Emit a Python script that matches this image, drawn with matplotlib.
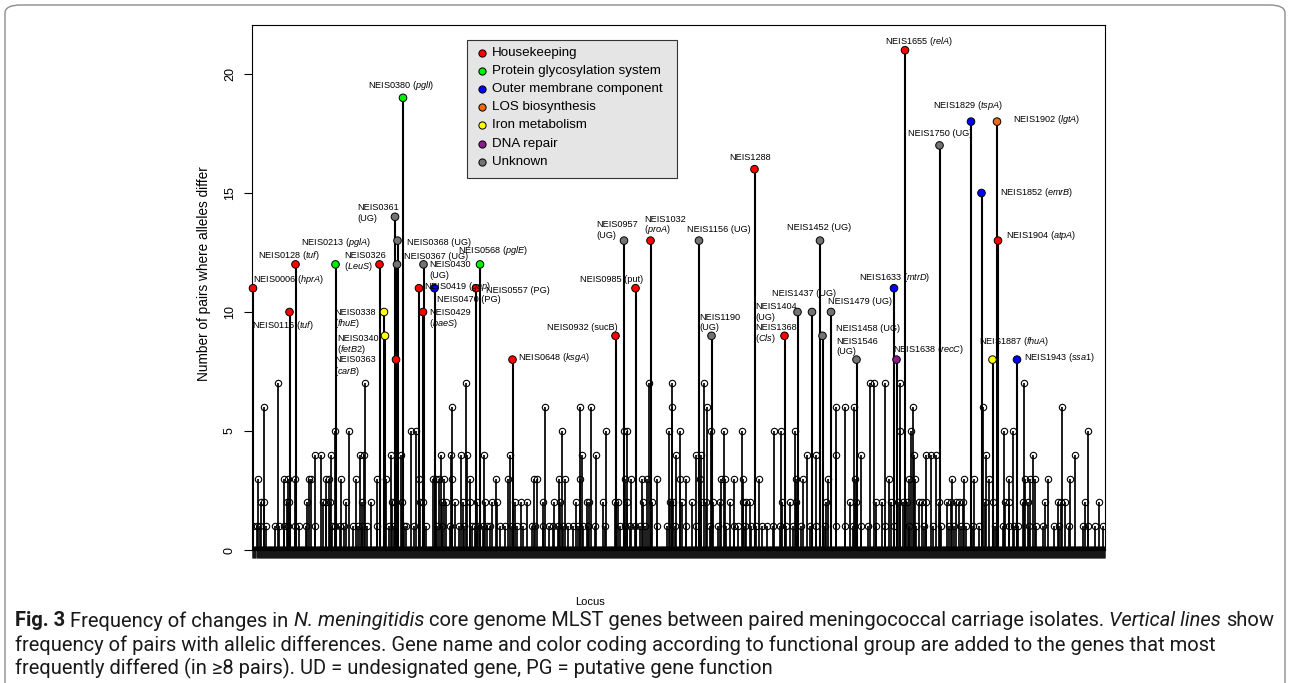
import matplotlib

matplotlib.use("Agg")
import matplotlib.pyplot as plt
import numpy as np
from matplotlib.lines import Line2D
from matplotlib.patches import FancyBboxPatch, Rectangle

W, H = 1290, 683
FONT = ["Liberation Sans", "DejaVu Sans"]
CAPTION_FONT = ["Roboto", "Liberation Sans", "DejaVu Sans"]

plt.rcParams["font.family"] = FONT
plt.rcParams["mathtext.fontset"] = "custom"
plt.rcParams["mathtext.rm"] = "Liberation Sans"
plt.rcParams["mathtext.it"] = "Liberation Sans:italic"

# loci on the x axis (index along the core genome, no tick labels)
N_LOCI = 1705

# functional groups
GROUPS = [
    "Housekeeping",
    "Protein glycosylation system",
    "Outer membrane component",
    "LOS biosynthesis",
    "Iron metabolism",
    "DNA repair",
    "Unknown",
]
GROUP_COLORS = ["#ff0000", "#00ee00", "#0000ff", "#ee6a10", "#ffff00", "#8b1a8b", "#737373"]

# genes differing in >= 8 pairs
GENE_IDS = [
    "NEIS0006", "NEIS0116", "NEIS0128", "NEIS0213", "NEIS0326", "NEIS0338",
    "NEIS0340", "NEIS0361", "NEIS0363", "NEIS0367", "NEIS0368", "NEIS0380",
    "NEIS0419", "NEIS0429", "NEIS0430", "NEIS0470", "NEIS0557", "NEIS0568",
    "NEIS0648", "NEIS0932", "NEIS0957", "NEIS0985", "NEIS1032", "NEIS1156",
    "NEIS1190", "NEIS1288", "NEIS1368", "NEIS1404", "NEIS1437", "NEIS1452",
    "NEIS1458", "NEIS1479", "NEIS1546", "NEIS1633", "NEIS1638", "NEIS1655",
    "NEIS1750", "NEIS1829", "NEIS1852", "NEIS1887", "NEIS1902", "NEIS1904",
    "NEIS1943",
]
GENE_LOCUS = [
    2, 75, 87, 167, 255, 264, 266, 286, 288, 290, 291, 302,
    334, 342, 343, 365, 448, 456, 521, 727, 744, 767, 797, 894,
    919, 1005, 1065, 1091, 1120, 1136, 1141, 1158, 1209, 1284, 1289, 1306,
    1375, 1438, 1459, 1481, 1490, 1492, 1530,
]
GENE_PAIRS = [
    11, 10, 12, 12, 12, 10, 9, 14, 8, 12, 13, 19,
    11, 10, 12, 11, 11, 12, 8, 9, 13, 11, 13, 13,
    9, 16, 9, 10, 10, 13, 9, 10, 8, 11, 8, 21,
    17, 18, 15, 8, 18, 13, 8,
]
GENE_GROUP = [
    0, 0, 0, 1, 0, 4, 4, 6, 0, 6, 6, 1,
    0, 0, 6, 2, 0, 1, 0, 0, 6, 0, 0, 6,
    6, 0, 0, 6, 6, 6, 6, 6, 6, 2, 5, 0,
    6, 2, 2, 4, 3, 0, 2,
]
GENE_LABELS = [
    r"NEIS0006 ($\it{hprA}$)", r"NEIS0116 ($\it{tuf}$)", r"NEIS0128 ($\it{tuf}$)",
    r"NEIS0213 ($\it{pglA}$)", "NEIS0326\n($\\it{LeuS}$)", "NEIS0338\n($\\it{fhuE}$)",
    "NEIS0340\n($\\it{fetB2}$)", "NEIS0361\n(UG)", "NEIS0363\n($\\it{carB}$)",
    "NEIS0367 (UG)", "NEIS0368 (UG)", r"NEIS0380 ($\it{pglI}$)",
    r"NEIS0419 ($\it{gap}$)", "NEIS0429\n($\\it{baeS}$)", "NEIS0430\n(UG)",
    "NEIS0470 (PG)", "NEIS0557 (PG)", r"NEIS0568 ($\it{pglE}$)",
    r"NEIS0648 ($\it{ksgA}$)", "NEIS0932 (sucB)", "NEIS0957\n(UG)",
    "NEIS0985 (put)", "NEIS1032\n($\\it{proA}$)", "NEIS1156 (UG)",
    "NEIS1190\n(UG)", "NEIS1288", "NEIS1368\n($\\it{Cls}$)",
    "NEIS1404\n(UG)", "NEIS1437 (UG)", "NEIS1452 (UG)",
    "NEIS1458 (UG)", "NEIS1479 (UG)", "NEIS1546\n(UG)",
    r"NEIS1633 ($\it{mtrD}$)", r"NEIS1638 ($\it{recC}$)", r"NEIS1655 ($\it{relA}$)",
    "NEIS1750 (UG)", r"NEIS1829 ($\it{tspA}$)", r"NEIS1852 ($\it{emrB}$)",
    r"NEIS1887 ($\it{fhuA}$)", r"NEIS1902 ($\it{lgtA}$)", r"NEIS1904 ($\it{atpA}$)",
    r"NEIS1943 ($\it{ssa1}$)",
]

# remaining loci, grouped by number of differing pairs
PAIRS_7 = [51, 226, 427, 794, 839, 903, 1235, 1243, 1265, 1295, 1543]
PAIRS_6 = [23, 399, 586, 655, 677, 840, 909, 1168, 1185, 1203, 1322, 1461, 1619]
PAIRS_5 = [165, 193, 317, 327, 620, 707, 743, 749, 833, 855, 917, 943, 979,
           1043, 1058, 1085, 1295, 1317, 1503, 1522, 1671]
PAIRS_4 = [125, 138, 158, 216, 223, 277, 298, 377, 397, 417, 429, 464, 515,
           660, 688, 847, 888, 898, 1110, 1128, 1167, 1218, 1323, 1347, 1357,
           1367, 1467, 1562, 1645]
PAIRS_3 = [11, 63, 71, 86, 113, 118, 147, 153, 178, 207, 249, 267, 333, 362,
           367, 373, 383, 399, 435, 487, 511, 563, 570, 614, 625, 655, 745, 757,
           779, 789, 809, 855, 868, 895, 938, 945, 963, 981, 1013, 1087, 1101,
           1151, 1205, 1273, 1314, 1325, 1399, 1424, 1444, 1473, 1513, 1545,
           1555, 1565, 1591, 1635]
PAIRS_2 = [18, 23, 69, 73, 109, 141, 148, 156, 187, 220, 237, 279, 285, 299,
           336, 341, 379, 388, 405, 421, 435, 449, 465, 479, 489, 525, 537, 549,
           582, 604, 615, 647, 669, 674, 702, 725, 732, 749, 782, 799, 835, 842,
           860, 880, 898, 908, 921, 935, 955, 981, 988, 995, 1060, 1075, 1088,
           1148, 1195, 1208, 1248, 1260, 1278, 1291, 1301, 1309, 1333, 1339,
           1347, 1374, 1389, 1397, 1407, 1414, 1421, 1466, 1482, 1506, 1514,
           1541, 1551, 1586, 1611, 1617, 1626, 1666, 1693]
PAIRS_1 = [3, 9, 16, 28, 46, 54, 63, 71, 86, 93, 108, 126, 159, 165, 175, 183,
           201, 211, 220, 229, 249, 273, 283, 303, 308, 323, 348, 369, 379, 396,
           413, 423, 439, 445, 452, 462, 469, 475, 495, 505, 519, 529, 542, 559,
           565, 582, 594, 602, 612, 622, 632, 642, 652, 662, 672, 685, 705, 735,
           745, 755, 765, 775, 785, 809, 829, 845, 867, 888, 915, 931, 948, 963,
           971, 985, 998, 1008, 1020, 1030, 1041, 1055, 1068, 1081, 1098, 1115,
           1128, 1145, 1168, 1185, 1201, 1218, 1231, 1248, 1265, 1284, 1314,
           1327, 1344, 1361, 1377, 1394, 1404, 1417, 1427, 1441, 1454, 1486,
           1501, 1514, 1524, 1531, 1554, 1567, 1581, 1604, 1614, 1634, 1661,
           1671, 1686, 1701]

# label placement (figure pixels: left x, centre y of first line, line step)
LABEL_POS = [
    (253, 279, 11), (252, 325, 11), (258, 255, 11), (301, 242, 11), (344, 255, 11),
    (334, 313, 11), (337, 338, 11), (357, 207, 11), (334, 360, 11), (404, 257, 11),
    (407, 242, 11), (368, 85, 11), (424, 286.5, 11), (429, 313, 11), (429, 265, 10),
    (437, 299, 11), (486, 290, 11), (458, 250, 11), (518, 357, 11), (547, 327, 11),
    (596, 225, 11), (580, 279, 11), (644, 219, 11), (687, 230, 11), (699, 317, 11),
    (729, 157, 11), (755, 327, 11), (755, 306, 11), (772, 294, 11), (787, 227, 11),
    (836, 329, 11), (828, 302, 11), (836, 341, 11), (859, 278, 11), (893, 350, 11),
    (885, 41, 11), (908, 134, 11), (933, 106, 11), (1000, 193, 11), (979, 341, 11),
    (1013, 120, 11), (1006, 235, 11), (1024, 357, 11),
]

CAPTION = [
    [("Fig. 3", "bold"), ("Frequency of changes in", "normal"),
     ("N. meningitidis", "italic"),
     ("core genome MLST genes between paired meningococcal carriage isolates.", "normal"),
     ("Vertical lines", "italic"), ("show", "normal")],
    [("frequency of pairs with allelic differences. Gene name and color coding "
      "according to functional group are added to the genes that most", "normal")],
    [("frequently differed (in \u22658 pairs). UD = undesignated gene, "
      "PG = putative gene function", "normal")],
]


def fxy(px, py):
    return px / W, 1 - py / H


fig = plt.figure(figsize=(W / 100, H / 100), dpi=100)
fig.patch.set_facecolor("white")

# outer panel border
fig.patches.append(
    FancyBboxPatch(fxy(5, 740), 1280 / W, 735 / H, boxstyle="round,pad=0,rounding_size=0.012",
                   transform=fig.transFigure, fill=False, edgecolor="#8c8c8c", lw=1.0)
)

x0, y0 = fxy(252.5, 550)
x1, y1 = fxy(1105, 25)
ax = fig.add_axes([x0, y0, x1 - x0, y1 - y0])
ax.set_xlim(1, N_LOCI + 1)
ax.set_ylim(0, 22.06)

line_kw = dict(color="black", lw=1.25)
open_kw = dict(ls="none", marker="o", ms=4.6, mfc="none", mec="black", mew=0.8)

levels = [(1, PAIRS_1), (2, PAIRS_2), (3, PAIRS_3), (4, PAIRS_4),
          (5, PAIRS_5), (6, PAIRS_6), (7, PAIRS_7)]
used = set(GENE_LOCUS)
for lvl, loci in levels:
    used.update(loci)
    ax.vlines(loci, 0, lvl, **line_kw)
    ax.plot(loci, [lvl] * len(loci), **open_kw)

zero_loci = [i for i in range(1, N_LOCI + 1) if i not in used]
ax.plot(zero_loci, [0] * len(zero_loci), **open_kw)

ax.vlines(GENE_LOCUS, 0, GENE_PAIRS, color="black", lw=1.5, zorder=3)
ax.scatter(GENE_LOCUS, GENE_PAIRS, s=30, c=[GROUP_COLORS[g] for g in GENE_GROUP],
           edgecolors="black", linewidths=0.7, zorder=4, clip_on=False)

ax.set_xticks(np.arange(1, N_LOCI + 1))
ax.tick_params(axis="x", length=5.8, width=0.5, labelbottom=False)
ax.set_yticks([0, 5, 10, 15, 20])
ax.tick_params(axis="y", length=6, width=0.8, labelsize=9, pad=6)
for lab in ax.get_yticklabels():
    lab.set_rotation(90)
    lab.set_va("center")
for sp in ax.spines.values():
    sp.set_linewidth(0.8)

# gene labels
for text, (px, py, step) in zip(GENE_LABELS, LABEL_POS):
    for k, line in enumerate(text.split("\n")):
        fig.text(*fxy(px, py + step * k), line, fontsize=6.6, ha="left", va="center")

# legend box
fig.patches.append(Rectangle(fxy(467, 178), 210 / W, 138 / H, transform=fig.transFigure,
                             facecolor="#e5e5e5", edgecolor="#333333", lw=0.8))
for i, (name, col) in enumerate(zip(GROUPS, GROUP_COLORS)):
    py = 52.7 + 18.17 * i
    fig.lines.append(Line2D([482.3 / W], [1 - py / H], transform=fig.transFigure, ls="none",
                            marker="o", ms=5.2, mfc=col, mec="black", mew=0.7))
    fig.text(*fxy(491.7, py), name, fontsize=9.6, ha="left", va="center")

fig.text(*fxy(204, 274), "Number of pairs where alleles differ", rotation=90,
         fontsize=9.8, ha="center", va="center")
fig.text(*fxy(590, 602), "Locus", fontsize=8, ha="center", va="center")

# caption, laid out run by run
renderer = fig.canvas.get_renderer()


def text_width(s, size, fontweight="normal", fontstyle="normal"):
    t = fig.text(0, 0, s, fontsize=size, fontweight=fontweight, fontstyle=fontstyle,
                 family=CAPTION_FONT)
    w = t.get_window_extent(renderer).width
    t.remove()
    return w


def run_kw(kind):
    return dict(fontweight="bold" if kind == "bold" else "normal",
                fontstyle="italic" if kind == "italic" else "normal")


base = 12
space = text_width("x x", base) - text_width("xx", base)
total = sum(text_width(s, base, **run_kw(k)) for s, k in CAPTION[0]) + space * (len(CAPTION[0]) - 1)
size = base * (1273 - 15) / total
space = text_width("x x", size) - text_width("xx", size)

for row, py in zip(CAPTION, [621, 645, 668]):
    px = 15
    for s, k in row:
        t = fig.text(*fxy(px, py), s, fontsize=size, ha="left", va="center",
                     family=CAPTION_FONT, color="#1a1a1a", **run_kw(k))
        px += t.get_window_extent(renderer).width + space

fig.savefig("out.png", dpi=100)
